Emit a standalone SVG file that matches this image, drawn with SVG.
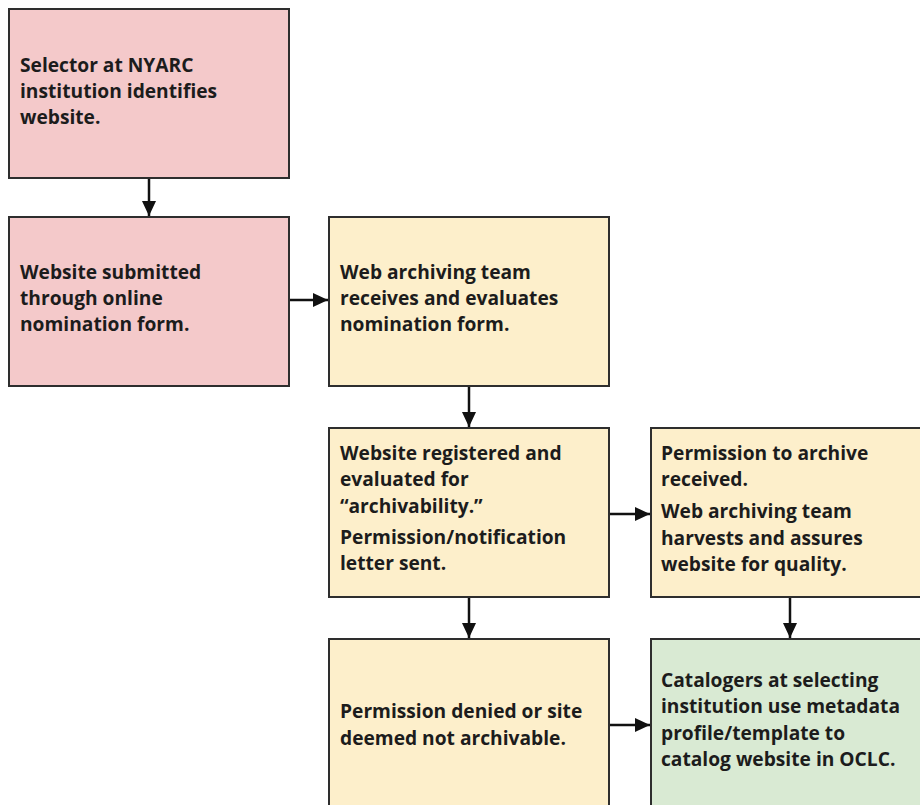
<svg xmlns="http://www.w3.org/2000/svg" width="920" height="805" viewBox="0 0 920 805">
<defs>
<style>
.box{stroke:#2e2e2e;stroke-width:2}
.pink{fill:#f4c9ca}
.yel{fill:#fdefcb}
.grn{fill:#d9ead3}
text{font-family:"Open Sans","Noto Sans","DejaVu Sans",sans-serif;font-weight:700;font-size:19.2px;fill:#1c1c1c}
.conn{stroke:#111;stroke-width:2.5;fill:none}
</style>
<marker id="ah" viewBox="0 0 15 14" refX="15" refY="7" markerWidth="15" markerHeight="14" markerUnits="userSpaceOnUse" orient="auto">
<path d="M0,0 L15,7 L0,14 Z" fill="#111"/>
</marker>
</defs>
<rect width="920" height="805" fill="#ffffff"/>
<g id="n1">
<rect class="box pink" x="9" y="9" width="280" height="169"/>
<text x="20" y="71.8"><tspan x="20" y="71.8">Selector at NYARC</tspan><tspan x="20" y="98">institution identifies</tspan><tspan x="20" y="124.2">website.</tspan></text>
</g>
<g id="n2">
<rect class="box pink" x="9" y="217" width="280" height="169"/>
<text x="20" y="278.8"><tspan x="20" y="278.8">Website submitted</tspan><tspan x="20" y="305">through online</tspan><tspan x="20" y="331.2">nomination form.</tspan></text>
</g>
<g id="n3">
<rect class="box yel" x="329" y="217" width="280" height="169"/>
<text x="340" y="278.8"><tspan x="340" y="278.8">Web archiving team</tspan><tspan x="340" y="305">receives and evaluates</tspan><tspan x="340" y="331.2">nomination form.</tspan></text>
</g>
<g id="n4">
<rect class="box yel" x="329" y="428" width="280" height="169"/>
<text x="340" y="460.2"><tspan x="340" y="460.2">Website registered and</tspan><tspan x="340" y="486.4">evaluated for</tspan><tspan x="340" y="512.6">“archivability.”</tspan><tspan x="340" y="543.6">Permission/notification</tspan><tspan x="340" y="569.8">letter sent.</tspan></text>
</g>
<g id="n5">
<rect class="box yel" x="651" y="428" width="280" height="169"/>
<text x="661" y="460.2"><tspan x="661" y="460.2">Permission to archive</tspan><tspan x="661" y="486.4">received.</tspan><tspan x="661" y="518.4">Web archiving team</tspan><tspan x="661" y="544.6">harvests and assures</tspan><tspan x="661" y="570.8">website for quality.</tspan></text>
</g>
<g id="n6">
<rect class="box yel" x="329" y="639" width="280" height="180"/>
<text x="340" y="718.4"><tspan x="340" y="718.4">Permission denied or site</tspan><tspan x="340" y="744.6">deemed not archivable.</tspan></text>
</g>
<g id="n7">
<rect class="box grn" x="651" y="639" width="280" height="180"/>
<text x="661" y="687.2"><tspan x="661" y="687.2">Catalogers at selecting</tspan><tspan x="661" y="713.4">institution use metadata</tspan><tspan x="661" y="739.6">profile/template to</tspan><tspan x="661" y="765.8">catalog website in OCLC.</tspan></text>
</g>
<g id="connectors">
<line class="conn" x1="149" y1="179" x2="149" y2="216" marker-end="url(#ah)"/>
<line class="conn" x1="290" y1="300" x2="328" y2="300" marker-end="url(#ah)"/>
<line class="conn" x1="469" y1="387" x2="469" y2="427" marker-end="url(#ah)"/>
<line class="conn" x1="610" y1="514" x2="650" y2="514" marker-end="url(#ah)"/>
<line class="conn" x1="469" y1="598" x2="469" y2="638" marker-end="url(#ah)"/>
<line class="conn" x1="790" y1="598" x2="790" y2="638" marker-end="url(#ah)"/>
<line class="conn" x1="610" y1="725" x2="650" y2="725" marker-end="url(#ah)"/>
</g>
</svg>
